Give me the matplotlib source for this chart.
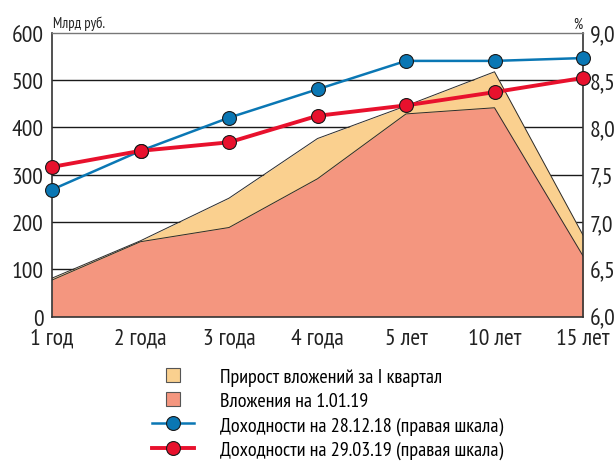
import matplotlib
matplotlib.use("Agg")
import matplotlib.pyplot as plt
from matplotlib.lines import Line2D

plt.rcParams['font.family'] = ['PT Sans Narrow', 'Roboto Condensed', 'DejaVu Sans']

# ============================================================
# Data
# ============================================================
terms = ['1 год', '2 года', '3 года', '4 года', '5 лет', '10 лет', '15 лет']
invest_base = [77, 158, 188, 291, 428, 441, 128]        # Вложения на 1.01.19
invest_total = [81, 160, 250, 376, 445, 517, 172]       # с приростом за I квартал
yield_dec = [7.34, 7.75, 8.10, 8.40, 8.70, 8.70, 8.73]  # 28.12.18
yield_mar = [7.58, 7.75, 7.84, 8.12, 8.23, 8.37, 8.52]  # 29.03.19

left_ticks = [0, 100, 200, 300, 400, 500, 600]
right_ticks = [6.0, 6.5, 7.0, 7.5, 8.0, 8.5, 9.0]
right_labels = ['6,0', '6,5', '7,0', '7,5', '8,0', '8,5', '9,0']

c_incr = '#FAD08F'
c_base = '#F4967F'
c_blue = '#0A77B4'
c_red = '#E8112D'
c_edge = '#2b2b2b'

fig = plt.figure(figsize=(6.16, 4.64), dpi=100)
ax = fig.add_axes([52 / 616, 1 - 317.5 / 464, 531 / 616, 284 / 464])
x = list(range(len(terms)))

for v in [100, 200, 300, 400, 500]:
    ax.axhline(v, color='#1a1a1a', lw=1.0, zorder=0)

ax.fill_between(x, 0, invest_total, color=c_incr, lw=0, zorder=1)
ax.fill_between(x, 0, invest_base, color=c_base, lw=0, zorder=2)
ax.plot(x, invest_total, color=c_edge, lw=0.7, zorder=3)
ax.plot(x, invest_base, color=c_edge, lw=0.7, zorder=3)

ax.set_xlim(0, 6)
ax.set_ylim(0, 600)
ax.set_yticks(left_ticks)
ax.set_xticks(x)
ax.set_xticklabels(terms)
ax.tick_params(axis='both', length=0, labelsize=17, colors='#222222')
ax.tick_params(axis='x', pad=8)
ax.tick_params(axis='y', pad=6)
for sp in ['left', 'bottom', 'right']:
    ax.spines[sp].set_color('#333333')
    ax.spines[sp].set_linewidth(1.2)
ax.spines['top'].set_color('#777777')
ax.spines['top'].set_linewidth(1.0)

ax2 = ax.twinx()
ax2.set_ylim(6.0, 9.0)
ax2.set_yticks(right_ticks)
ax2.set_yticklabels(right_labels)
ax2.tick_params(axis='y', length=0, labelsize=17, colors='#222222', pad=5)
for sp in ax2.spines.values():
    sp.set_visible(False)

ax2.plot(x, yield_dec, color=c_blue, lw=1.8, marker='o', ms=10,
         mfc=c_blue, mec='#1a1a1a', mew=0.8, clip_on=False, zorder=4)
ax2.plot(x, yield_mar, color=c_red, lw=2.8, marker='o', ms=10,
         mfc=c_red, mec='#1a1a1a', mew=0.8, clip_on=False, zorder=5)

fig.text(53 / 616, 1 - 24 / 464, 'Млрд руб.', fontsize=10.5, va='center', color='#222222')
fig.text(582 / 616, 1 - 25 / 464, '%', fontsize=10.5, va='center', ha='right', color='#222222')

handles = [
    Line2D([0], [0], ls='none', marker='s', ms=10, mfc=c_incr, mec='#555555', mew=0.8),
    Line2D([0], [0], ls='none', marker='s', ms=10, mfc=c_base, mec='#555555', mew=0.8),
    Line2D([0], [0], color=c_blue, lw=1.8, marker='o', ms=10, mfc=c_blue, mec='#1a1a1a', mew=0.8),
    Line2D([0], [0], color=c_red, lw=2.8, marker='o', ms=10, mfc=c_red, mec='#1a1a1a', mew=0.8),
]
labels = ['Прирост вложений за I квартал', 'Вложения на 1.01.19',
          'Доходности на 28.12.18 (правая шкала)', 'Доходности на 29.03.19 (правая шкала)']
fig.legend(handles, labels, loc='upper left', bbox_to_anchor=(152 / 616, 1 - 369 / 464),
           frameon=False, fontsize=14.5, labelspacing=0.3, handlelength=2.1,
           handletextpad=1.3, borderpad=0, borderaxespad=0)

fig.savefig('out.png', dpi=100)
